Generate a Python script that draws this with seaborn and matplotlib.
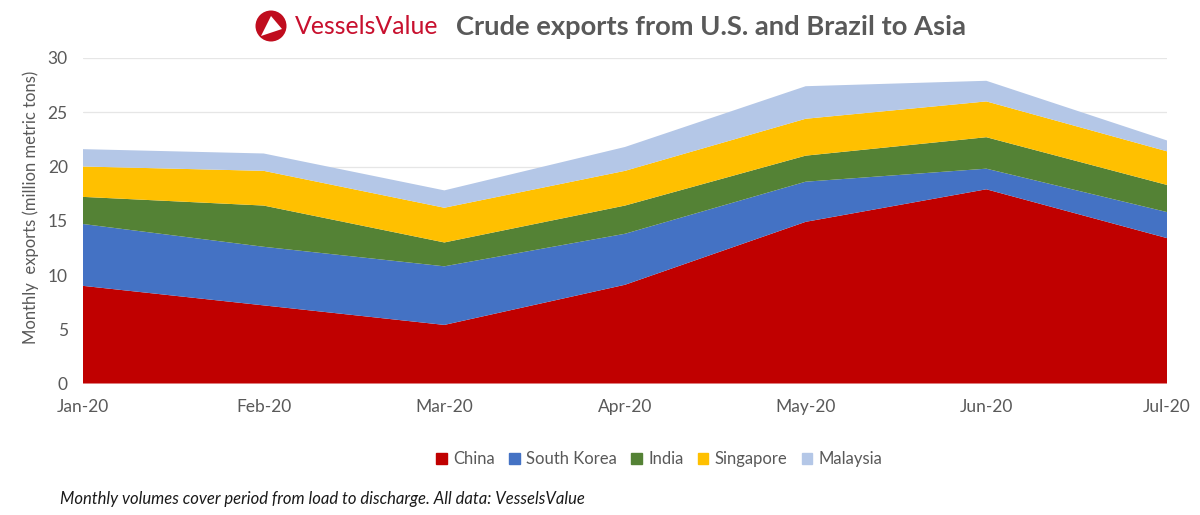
import matplotlib
matplotlib.use('Agg')
import matplotlib.pyplot as plt
import matplotlib.patches as mpatches
import pandas as pd
import seaborn as sns

months = ['Jan-20', 'Feb-20', 'Mar-20', 'Apr-20', 'May-20', 'Jun-20', 'Jul-20']
china = [9.0, 7.2, 5.4, 9.1, 14.9, 17.9, 13.4]
south_korea = [5.7, 5.4, 5.4, 4.7, 3.7, 1.9, 2.4]
india = [2.5, 3.8, 2.2, 2.6, 2.4, 2.9, 2.5]
singapore = [2.8, 3.2, 3.2, 3.2, 3.4, 3.3, 3.1]
malaysia = [1.6, 1.6, 1.6, 2.2, 3.0, 1.9, 1.0]
countries = ['China', 'South Korea', 'India', 'Singapore', 'Malaysia']
colors = ['#C00000', '#4472C4', '#548235', '#FFC000', '#B4C7E7']
y_ticks = [0, 5, 10, 15, 20, 25, 30]

GREY = '#595959'

sns.set_theme(style='white')
plt.rcParams['font.family'] = ['Lato', 'DejaVu Sans']

df = pd.DataFrame(dict(zip(countries, [china, south_korea, india, singapore, malaysia])), index=months)

fig = plt.figure(figsize=(12, 5.15), dpi=100)
ax = fig.add_axes([83 / 1200, 1 - 383.5 / 515, (1167 - 83) / 1200, (383.5 - 58) / 515])

pos = list(range(len(months)))
ax.stackplot(pos, df.T.values, colors=sns.color_palette(colors), labels=countries,
             edgecolor='none', linewidth=0, zorder=2)
ax.set_xlim(pos[0], pos[-1])
ax.set_ylim(0, 30)
ax.set_yticks(y_ticks)
ax.set_xticks(pos, months)
ax.grid(axis='y', color='#E6E6E6', linewidth=0.9, zorder=0)
ax.tick_params(axis='y', labelsize=12.5, labelcolor=GREY, length=0, pad=11)
ax.tick_params(axis='x', labelsize=12.5, labelcolor=GREY, length=0, pad=11)
ax.set_ylabel('Monthly  exports (million metric tons)', fontsize=12, color=GREY)
ax.yaxis.set_label_coords(-44 / 1084, 1 - (207 - 58) / 325.5)
sns.despine(ax=ax, left=True, bottom=True, top=True, right=True)

# legend
handles = [mpatches.Patch(color=c, label=n) for c, n in zip(colors, countries)]
fig.legend(handles=handles, loc='center', bbox_to_anchor=(659.5 / 1200, 1 - 459 / 515), ncol=5,
           frameon=False, fontsize=12, labelcolor=GREY, handlelength=0.62, handleheight=0.62,
           handletextpad=0.4, columnspacing=0.85)

# header: logo + title
fig.text(456 / 1200, 1 - 27 / 515, 'Crude exports from U.S. and Brazil to Asia', fontsize=19.7,
         fontweight='bold', color=GREY, ha='left', va='center')
fig.text(295 / 1200, 1 - 27 / 515, 'VesselsValue', fontsize=17.9, color='#C8102E', ha='left', va='center')
fig.add_artist(mpatches.Ellipse((271 / 1200, 1 - 26 / 515), 31 / 1200, 31 / 515,
                                transform=fig.transFigure, color='#C00D1E', linewidth=0))
fig.add_artist(mpatches.Polygon([(271 / 1200, 1 - 16 / 515), (261 / 1200, 1 - 36 / 515), (282 / 1200, 1 - 29 / 515)],
                                closed=True, transform=fig.transFigure, color='white', linewidth=0))

# footnote
fig.text(60 / 1200, 1 - 499 / 515, 'Monthly volumes cover period from load to discharge. All data: VesselsValue',
         fontsize=12, style='italic', color='#1A1A1A', ha='left', va='center')

fig.savefig('out.png', dpi=100)
